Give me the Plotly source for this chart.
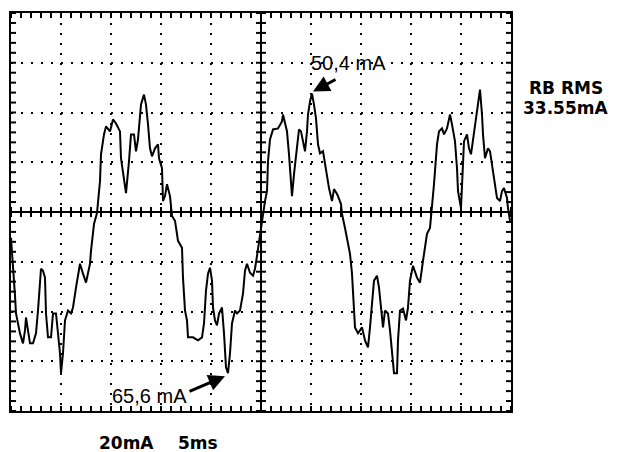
import plotly.graph_objects as go

# ---- data (time in ms, current in mA) ----
time_ms = [0.0, 0.1, 0.2, 0.3, 0.4, 0.5, 0.7, 0.9, 1.2, 1.4, 1.5, 1.7, 1.9, 2.2, 2.5, 2.7, 3.0, 3.2, 3.4, 3.5,
           3.7, 4.0, 4.2, 4.5, 4.7, 4.9, 5.0, 5.2, 5.4, 5.7, 6.0, 6.2, 6.5, 6.9, 7.2, 7.5, 7.9, 8.0, 8.3, 8.6,
           8.9, 9.0, 9.3, 9.5, 9.9, 10.2, 10.5, 10.9, 11.0, 11.4, 11.5, 11.8, 12.0, 12.3, 12.5, 12.7, 13.0, 13.3, 13.5, 13.7,
           13.9, 14.1, 14.4, 14.7, 14.8, 15.1, 15.2, 15.4, 15.6, 15.9, 16.1, 16.4, 16.7, 17.1, 17.2, 17.4, 17.6, 17.7, 18.2, 18.7,
           19.1, 19.3, 19.5, 19.7, 19.9, 20.1, 20.2, 20.4, 20.6, 20.8, 21.1, 21.3, 21.5, 21.7, 21.9, 22.1, 22.4, 22.6, 22.9, 23.2,
           23.4, 23.6, 23.9, 24.2, 24.4, 24.6, 24.8, 25.0, 25.2, 25.4, 25.6, 25.7, 25.9, 26.2, 26.7, 27.1, 27.2, 27.4, 27.6, 27.8,
           28.0, 28.1, 28.3, 28.6, 28.8, 29.0, 29.2, 29.4, 29.6, 29.7, 29.9, 30.1, 30.3, 30.5, 30.7, 30.9, 31.2, 31.3, 31.6, 31.8,
           32.1, 32.3, 32.6, 32.7, 33.0, 33.1, 33.4, 33.7, 33.9, 34.1, 34.2, 34.4, 34.7, 35.1, 35.4, 35.7, 35.9, 36.1, 36.3, 36.6,
           36.8, 37.0, 37.2, 37.4, 37.7, 37.9, 38.1, 38.3, 38.6, 38.7, 38.9, 39.2, 39.5, 39.7, 39.9, 40.2, 40.6, 40.9, 41.2, 41.6,
           41.9, 42.1, 42.3, 42.6, 42.8, 43.1, 43.3, 43.6, 43.9, 44.1, 44.4, 44.6, 44.7, 45.0, 45.1, 45.3, 45.6, 45.8, 46.0, 46.2,
           46.5, 46.7, 46.9, 47.1, 47.2, 47.4, 47.7, 47.9, 48.1, 48.3, 48.6, 48.9, 49.1, 49.3, 49.6, 49.7, 49.9]
current_mA = [-10.4, -15.6, -21.6, -27.6, -33.6, -40.8, -45.6, -48.8, -52.8, -47.6, -42.4, -47.6, -52.8, -52.8, -48.8, -39.6, -22.8, -23.6, -26.4, -40.8,
              -50.4, -50.4, -40.8, -40.8, -48.8, -56.8, -64.8, -56.8, -43.6, -39.6, -40.8, -38.4, -30.4, -20.8, -24.8, -28.4, -20.8, -15.6, -4.8, -0.4,
              12.4, 23.2, 31.2, 34.4, 32.4, 37.2, 35.6, 32.4, 21.6, 11.2, 7.6, 20.4, 31.2, 31.2, 24.4, 29.2, 43.2, 47.2, 43.2, 35.2,
              25.6, 22.4, 25.6, 27.2, 21.6, 17.6, 4.4, 6.4, 11.2, 6.4, -1.6, -3.6, -11.6, -14.4, -26.4, -39.6, -43.6, -50.4, -50.4, -51.6,
              -50.4, -44.8, -31.6, -24.8, -22.4, -27.6, -38.4, -43.6, -45.6, -40.8, -38.4, -48.8, -62.4, -64.8, -56.8, -44.8, -39.6, -40.8, -39.6, -32.8,
              -23.6, -20.8, -24.4, -25.6, -22.8, -17.6, -11.6, -5.6, 0.4, 4.4, 8.4, 20.4, 29.2, 33.2, 33.6, 36.4, 39.2, 35.2, 32.4, 23.2,
              12.4, 6.4, 15.2, 25.6, 33.2, 32.4, 28.4, 24.4, 32.4, 39.2, 44.4, 47.6, 43.2, 37.6, 27.2, 23.6, 24.4, 21.6, 15.2, 9.6,
              4.4, 9.2, 7.2, 6.4, 3.2, -0.8, -6.4, -12.8, -16.8, -24.8, -34.4, -46.4, -48.8, -46.4, -51.6, -54.4, -46.4, -38.4, -27.6, -25.6,
              -30.4, -38.4, -46.4, -39.6, -40.8, -47.6, -55.6, -64.8, -64.8, -51.6, -39.6, -38.8, -43.6, -38.4, -27.6, -21.6, -26.4, -28.4, -19.6, -8.8,
              -6.4, 1.6, 11.2, 27.2, 32.4, 33.6, 31.2, 33.6, 39.2, 35.2, 28.4, 17.6, 8.4, 1.6, 12.4, 28.4, 31.2, 25.6, 23.2, 29.2,
              37.6, 44.4, 49.2, 39.2, 31.2, 21.6, 25.6, 24.4, 19.2, 12.4, 5.6, 4.4, 8.4, 9.6, 5.6, 1.6, -3.6]

peak_label = "50,4 mA"
trough_label = "65,6 mA"
rms_title = "RB RMS"
rms_value = "33.55mA"
scale_v = "20mA"
scale_t = "5ms"

X_MIN, X_MAX, X_DIV = 0, 50, 5       # 10 divisions of 5 ms
Y_MIN, Y_MAX, Y_DIV = -80, 80, 20    # 8 divisions of 20 mA
X_MID, Y_MID = 25, 0
X_MINOR, Y_MINOR = 1, 4              # 5 minor ticks per division
XT, YT = 0.5, 2.0                    # minor tick lengths in data units (~5 px)

fig = go.Figure()

# minor ticks on the centre axes (trace) and on the frame (shapes)
tx, ty = [], []
shapes = []
tick_line = dict(color="black", width=2)
n_x = int((X_MAX - X_MIN) / X_MINOR)
for i in range(n_x + 1):
    x = X_MIN + i * X_MINOR
    tx += [x, x, None]
    ty += [Y_MID - YT, Y_MID + YT, None]
    shapes.append(dict(type="line", xref="x", yref="y", x0=x, x1=x, y0=Y_MAX - YT, y1=Y_MAX, line=tick_line))
    shapes.append(dict(type="line", xref="x", yref="y", x0=x, x1=x, y0=Y_MIN, y1=Y_MIN + YT, line=tick_line))
n_y = int((Y_MAX - Y_MIN) / Y_MINOR)
for j in range(n_y + 1):
    y = Y_MIN + j * Y_MINOR
    tx += [X_MID - XT, X_MID + XT, None]
    ty += [y, y, None]
    shapes.append(dict(type="line", xref="x", yref="y", x0=X_MIN, x1=X_MIN + XT, y0=y, y1=y, line=tick_line))
    shapes.append(dict(type="line", xref="x", yref="y", x0=X_MAX - XT, x1=X_MAX, y0=y, y1=y, line=tick_line))
fig.add_trace(go.Scatter(x=tx, y=ty, mode="lines", line=dict(color="black", width=2),
                         hoverinfo="skip", showlegend=False))

# centre axes
fig.add_trace(go.Scatter(x=[X_MIN, X_MAX, None, X_MID, X_MID], y=[Y_MID, Y_MID, None, Y_MIN, Y_MAX],
                         mode="lines", line=dict(color="black", width=2),
                         hoverinfo="skip", showlegend=False))

# waveform
fig.add_trace(go.Scatter(x=time_ms, y=current_mA, mode="lines",
                         line=dict(color="black", width=2), showlegend=False))

axis_common = dict(showticklabels=False, ticks="", showline=True, mirror=True,
                   linecolor="black", linewidth=2, showgrid=True, gridcolor="black",
                   gridwidth=2, griddash="2px,8px", zeroline=False, fixedrange=True)
fig.update_xaxes(range=[X_MIN, X_MAX], dtick=X_DIV, tick0=X_MIN, **axis_common)
fig.update_yaxes(range=[Y_MIN, Y_MAX], dtick=Y_DIV, tick0=Y_MIN, **axis_common)

thin = dict(family="Liberation Sans, Arial, sans-serif", size=20, color="black")
bold = dict(family="DejaVu Sans, sans-serif", size=17, color="black", weight="bold")

annotations = [
    # 50,4 mA marker
    dict(x=33.75, y=60, xref="x", yref="y", text=peak_label, showarrow=False, font=thin,
         xanchor="center", yanchor="middle"),
    dict(x=30.2, y=48.4, ax=32.6, ay=53.6, xref="x", yref="y", axref="x", ayref="y", text="",
         showarrow=True, arrowhead=2, arrowsize=1.1, arrowwidth=3, arrowcolor="black"),
    # 65,6 mA marker
    dict(x=13.8, y=-74, xref="x", yref="y", text=trough_label, showarrow=False, font=thin,
         xanchor="center", yanchor="middle"),
    dict(x=21.4, y=-66.0, ax=17.7, ay=-72.4, xref="x", yref="y", axref="x", ayref="y", text="",
         showarrow=True, arrowhead=2, arrowsize=1.1, arrowwidth=3, arrowcolor="black"),
    # RMS readout
    dict(x=1.11, y=0.811, xref="paper", yref="paper", text=rms_title, showarrow=False,
         font=bold, xanchor="center", yanchor="middle"),
    dict(x=1.108, y=0.7625, xref="paper", yref="paper", text=rms_value, showarrow=False,
         font=bold, xanchor="center", yanchor="middle"),
    # scale settings
    dict(x=0.23, y=-0.08, xref="paper", yref="paper", text=scale_v, showarrow=False,
         font=bold, xanchor="center", yanchor="middle"),
    dict(x=0.373, y=-0.08, xref="paper", yref="paper", text=scale_t, showarrow=False,
         font=bold, xanchor="center", yanchor="middle"),
]

fig.update_layout(width=618, height=452, autosize=False,
                  margin=dict(l=11, r=107, t=11, b=41, pad=0),
                  plot_bgcolor="white", paper_bgcolor="white",
                  annotations=annotations, shapes=shapes, showlegend=False)

fig.write_html("out.html", config={"displayModeBar": False},
               post_script="document.body.style.margin='0';document.body.style.overflow='hidden';")
